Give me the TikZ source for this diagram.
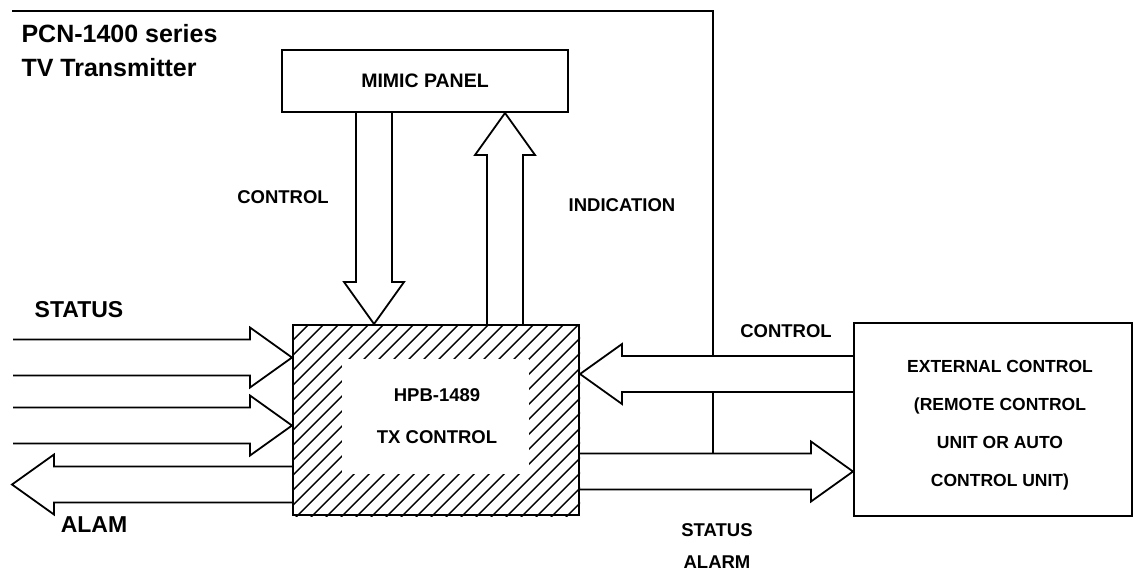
\documentclass[tikz,border=0pt]{standalone}
\usepackage{fontspec}
\setmainfont{Liberation Sans}
\usetikzlibrary{calc}
\tikzset{
  box/.style={draw,line width=2pt,inner sep=0pt,align=center},
  bus/.style={draw,line width=1.8pt,line join=miter},
  hatch/.style={line width=1.4pt},
  lbl/.style={font=\fontsize{18.5}{18.5}\selectfont\bfseries,inner sep=1pt},
  biglbl/.style={font=\fontsize{23}{23}\selectfont\bfseries},
}
% hollow arrow from #1 (open tail) to #2 (tip)
\newcommand{\fatarrow}[2]{%
  \draw[bus] let \p1=($(#2)-(#1)$), \n1={atan2(\y1,\x1)}, \n2={veclen(\x1,\y1)} in
    [shift={(#1)},rotate=\n1]
    (0,-18) -- (\n2-42,-18) -- (\n2-42,-30) -- (\n2,0)
    -- (\n2-42,30) -- (\n2-42,18) -- (0,18);}

\begin{document}
\begin{tikzpicture}[x=1pt,y=-1pt]
  \useasboundingbox (0,0) rectangle (1137,573);
  % blocks
  \node[box,minimum width=286pt,minimum height=62pt,font=\fontsize{19.5}{19.5}\selectfont\bfseries] (mimic) at (425,81) {MIMIC PANEL};
  \node[box,minimum width=286pt,minimum height=190pt] (ctrl) at (436,420) {};
  \node[box,minimum width=278pt,minimum height=193pt] (ext) at (993,419.5) {};
  \node[align=center,font=\fontsize{17.5}{38}\selectfont\bfseries] (exttxt) at (1000,425)
    {EXTERNAL CONTROL\\(REMOTE CONTROL\\UNIT OR AUTO\\CONTROL UNIT)};
  % hatched frame of the tx control
  \begin{scope}
    \clip (ctrl.north west) rectangle (ctrl.south east);
    \foreach \c in {618,633,...,1110}
      \draw[hatch] (\c-560,560) -- (\c-280,280);
  \end{scope}
  \fill[white] ($(ctrl.north west)+(50,35)$) rectangle ($(ctrl.south east)+(-51,-42)$);
  \node[align=center,font=\fontsize{18.5}{42}\selectfont\bfseries] (ctrltxt) at (437,416) {HPB-1489\\TX CONTROL};

  % arrow ends
  \coordinate (cx) at (374,0);
  \coordinate (ix) at (505,0);
  \coordinate (c1) at (cx |- mimic.south);
  \coordinate (c2) at (cx |- ctrl.north);
  \coordinate (i1) at (ix |- ctrl.north);
  \coordinate (i2) at (ix |- mimic.south);
  \coordinate (s1) at (13,357.5);
  \coordinate (s1e) at (ctrl.west |- s1);
  \coordinate (s2) at (13,425.5);
  \coordinate (s2e) at (ctrl.west |- s2);
  \coordinate (a1) at (ctrl.west |- 0,484.5);
  \coordinate (a2) at (12,484.5);
  \coordinate (r1) at (ext.west |- 0,374);
  \coordinate (r1e) at (ctrl.east |- r1);
  \coordinate (r2) at (ctrl.east |- 0,471.5);
  \coordinate (r2e) at (ext.west |- r2);

  \fatarrow{c1}{c2}
  \fatarrow{i1}{i2}
  \fatarrow{s1}{s1e}
  \fatarrow{s2}{s2e}
  \fatarrow{a1}{a2}
  \fatarrow{r1}{r1e}
  \fatarrow{r2}{r2e}

  % frame line down to the buses
  \coordinate (bus) at (12,11);
  \coordinate (tap) at (713,0);
  \draw[bus] (bus) -| ($(tap |- r1)+(0,-18)$);
  \draw[bus] ($(tap |- r1)+(0,18)$) -- ($(tap |- r2)+(0,-18)$);

  % labels
  \node[anchor=west,font=\fontsize{25}{25}\selectfont\bfseries] (title1) at (18,34) {PCN-1400 series};
  \node[anchor=west,font=\fontsize{25}{25}\selectfont\bfseries] (title2) at (18,68) {TV Transmitter};
  \node[biglbl] (status) at (79,310) {STATUS};
  \node[biglbl] (alam) at (94,525) {ALAM};
  \node[lbl] (lctrl) at (283,197) {CONTROL};
  \node[lbl] (lind) at (622,205) {INDICATION};
  \node[lbl] (lext) at (786,331) {CONTROL};
  \node[lbl] (lstat) at (717,530) {STATUS};
  \node[lbl] (lalarm) at (717,562) {ALARM};
\end{tikzpicture}
\end{document}
